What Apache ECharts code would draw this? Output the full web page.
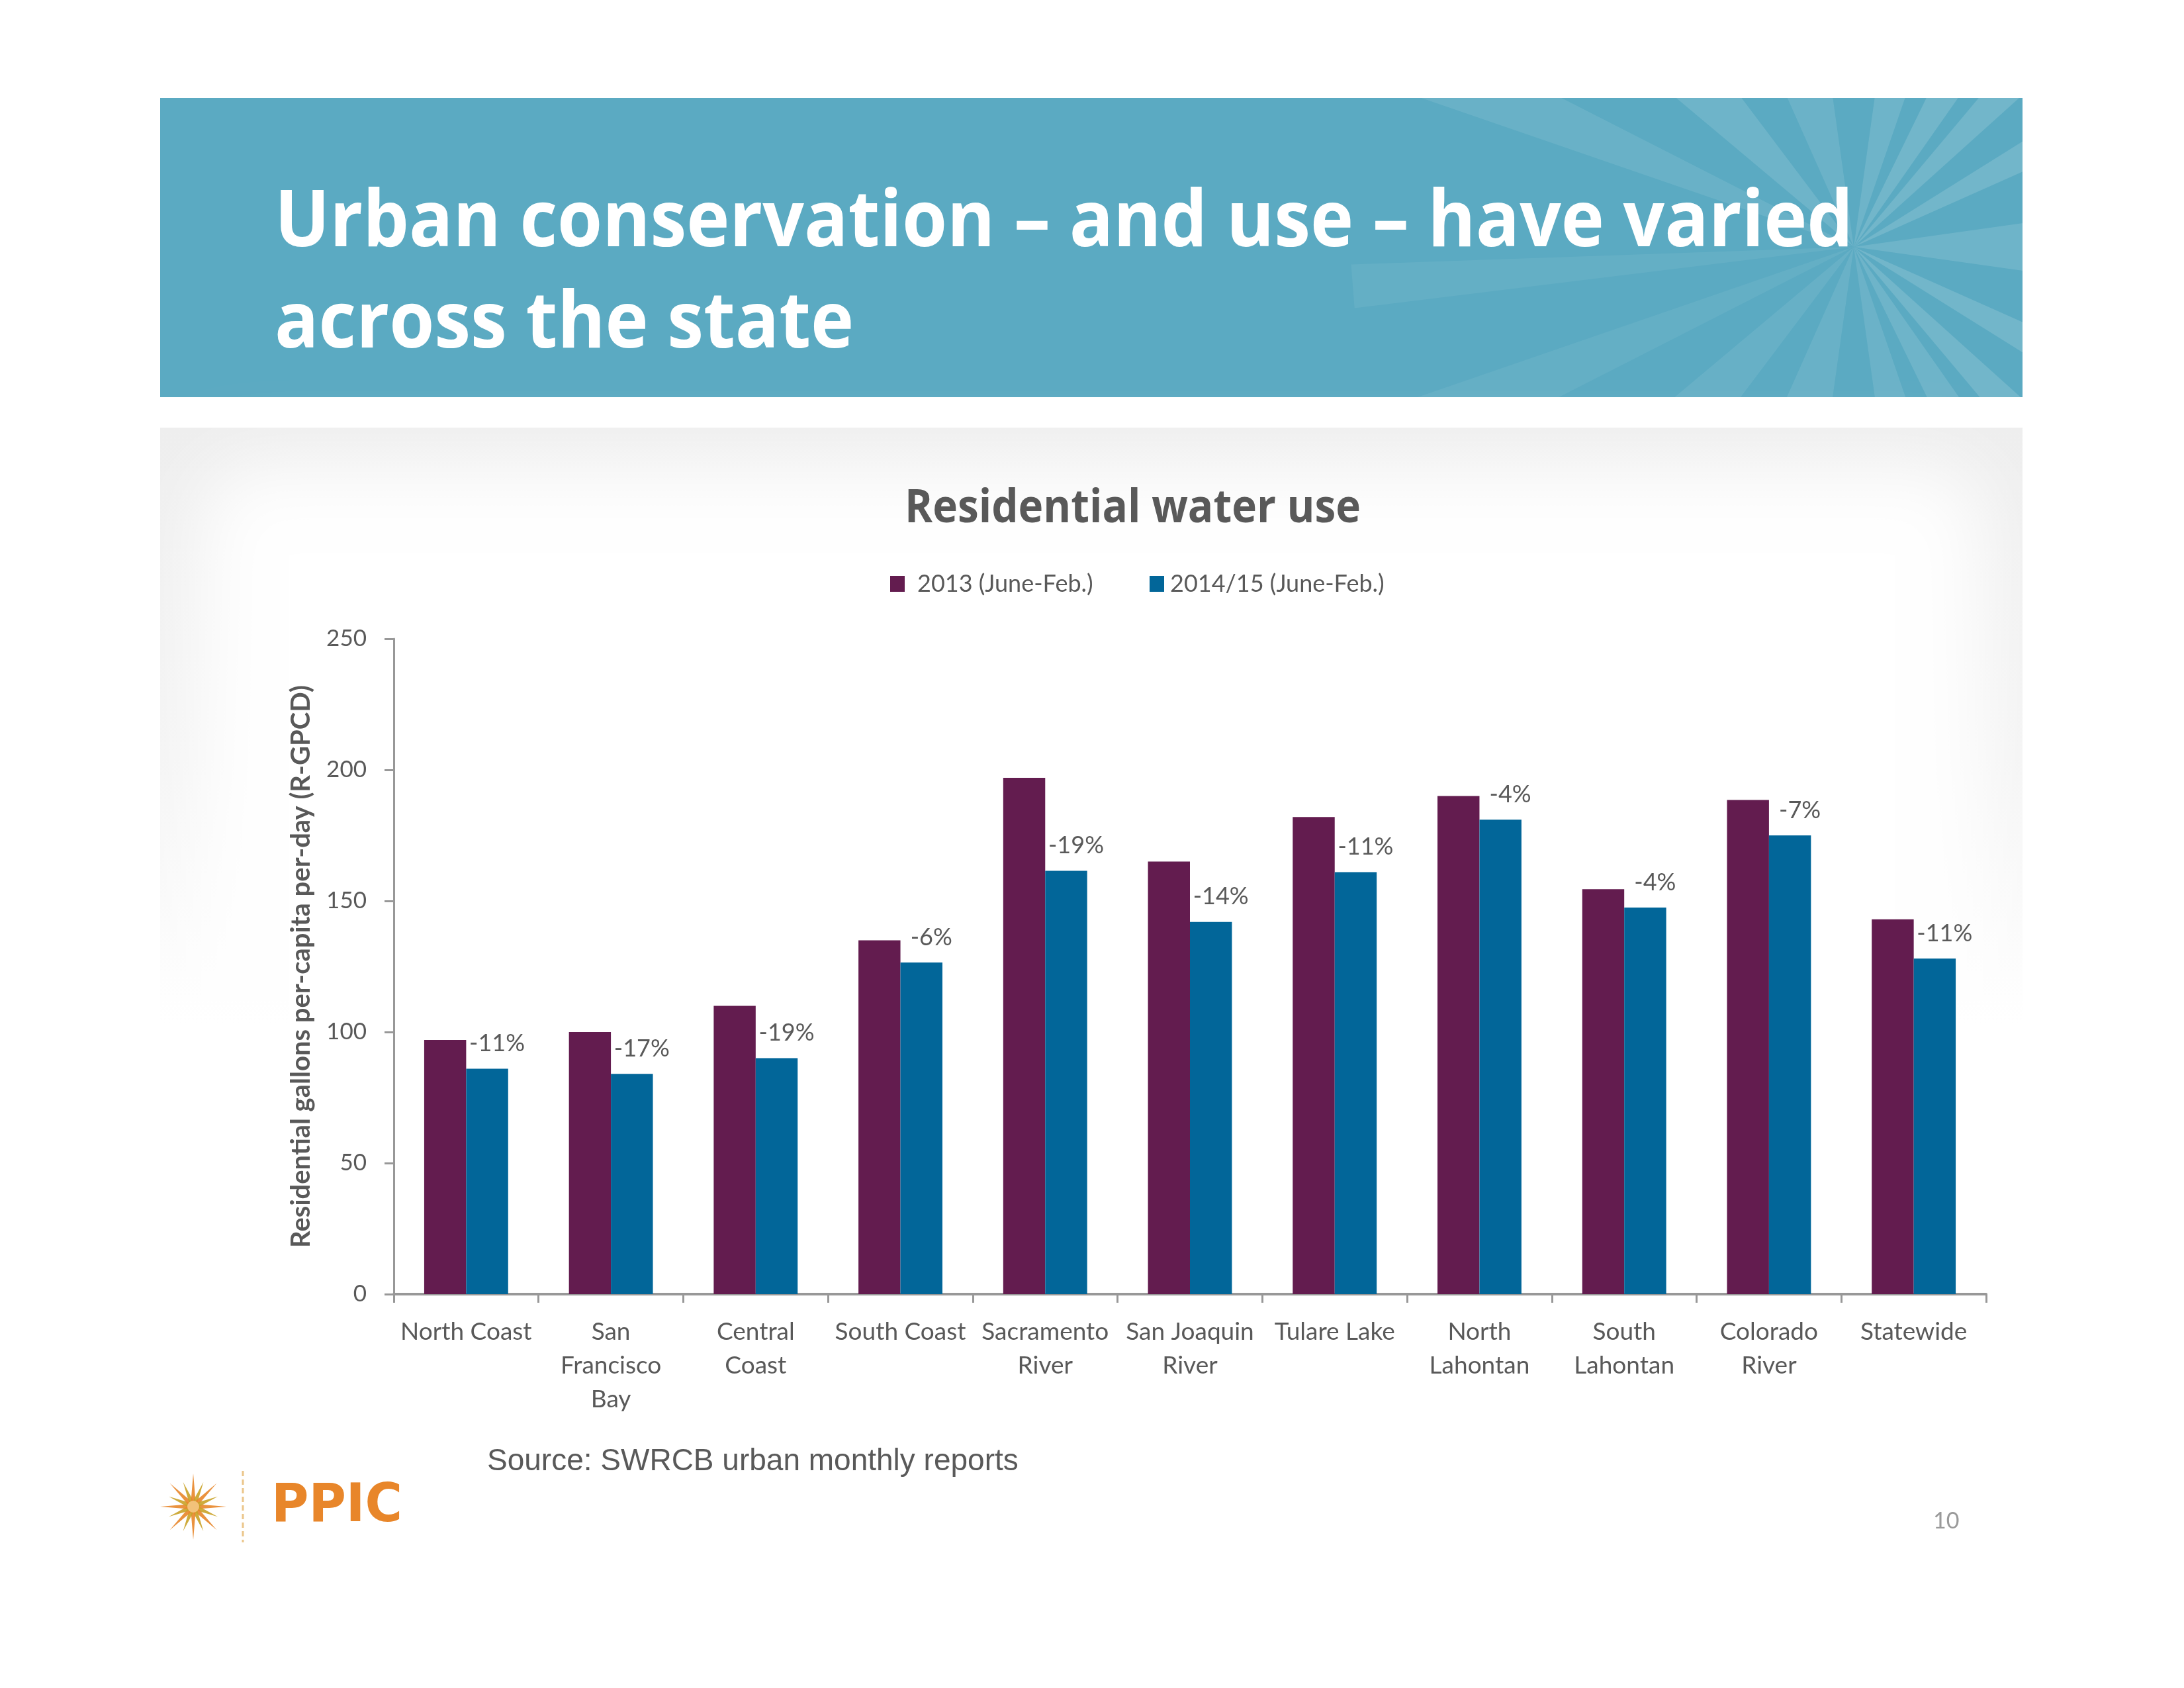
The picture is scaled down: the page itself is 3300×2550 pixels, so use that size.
<!DOCTYPE html>
<html>
<head>
<meta charset="utf-8">
<title>Residential water use</title>
<script src="https://cdn.jsdelivr.net/npm/echarts@6/dist/echarts.min.js"></script>
<style>
    html, body { margin: 0; padding: 0; background: #fff; }
    #main { width: 3300px; height: 2550px; }
</style>
</head>
<body>
<div id="main"></div>
<script>
/* ============================
   DATOS
============================ */
const categories = [
    'North Coast', 'San\nFrancisco\nBay', 'Central\nCoast', 'South Coast',
    'Sacramento\nRiver', 'San Joaquin\nRiver', 'Tulare Lake', 'North\nLahontan',
    'South\nLahontan', 'Colorado\nRiver', 'Statewide'
];
const use2013 = [97, 100, 110, 135, 197, 165, 182, 190, 154.5, 188.5, 143];
const use2014 = [86, 84, 90, 126.5, 161.5, 142, 161, 181, 147.5, 175, 128];
const changeLabels = ['-11%', '-17%', '-19%', '-6%', '-19%', '-14%', '-11%', '-4%', '-4%', '-7%', '-11%'];
const seriesNames = ['2013 (June-Feb.)', '2014/15 (June-Feb.)'];
const yTicks = { min: 0, max: 250, interval: 50 };

const C_2013 = '#631C4F';
const C_2014 = '#026699';
const C_TEXT = '#595959';
const C_AXIS = '#989898';

/* ============================
   UTILIDAD: ajustar ancho de texto
============================ */
const ctx = document.createElement('canvas').getContext('2d');
function fitScale(text, font, target) {
    ctx.font = font;
    return target / ctx.measureText(text).width;
}

/* ============================
   DECORACION (banner, panel, logo)
============================ */
function buildGraphic() {
    const g = [];
    const cx = 2801, cy = 373;

    // banner
    g.push({ type: 'rect', shape: { x: 242, y: 148, width: 2814, height: 452 }, style: { fill: '#5BAAC2' } });

    // rayos del starburst
    const wedges = [
        [-161, -153, 0.09], [-140, -127, 0.12], [-114, -98, 0.10], [-82, -71, 0.12], [-64, -55, 0.14],
        [-50, -42, 0.14], [-32, -24, 0.14], [-8, 8, 0.12],
        [24, 32, 0.14], [42, 50, 0.14], [55, 64, 0.12], [71, 82, 0.10], [98, 114, 0.09], [127, 140, 0.08],
        [153, 161, 0.06], [173, 178, 0.06]
    ];
    wedges.forEach(w => {
        const r = 760;
        const a1 = w[0] * Math.PI / 180, a2 = w[1] * Math.PI / 180;
        g.push({
            type: 'polygon',
            shape: { points: [[cx, cy], [cx + r * Math.cos(a1), cy + r * Math.sin(a1)], [cx + r * Math.cos(a2), cy + r * Math.sin(a2)]] },
            style: { fill: 'rgba(255,255,255,' + w[2] + ')' }
        });
    });

    // tapar lo que sale del banner
    g.push({ type: 'rect', shape: { x: 0, y: 0, width: 3300, height: 148 }, style: { fill: '#fff' } });
    g.push({ type: 'rect', shape: { x: 3056, y: 0, width: 244, height: 700 }, style: { fill: '#fff' } });
    g.push({ type: 'rect', shape: { x: 0, y: 600, width: 3300, height: 100 }, style: { fill: '#fff' } });

    // titulo del banner
    const fTitle = 'bold 118px "Open Sans"';
    const sTitle = fitScale('Urban conservation \u2013 and use \u2013 have varied', fTitle, 2385);
    g.push({
        type: 'text', x: 415, y: 338, scaleX: sTitle,
        style: { text: 'Urban conservation \u2013 and use \u2013 have varied', font: fTitle, fill: '#fff', verticalAlign: 'middle', textVerticalAlign: 'middle' }
    });
    g.push({
        type: 'text', x: 415, y: 491, scaleX: sTitle,
        style: { text: 'across the state', font: fTitle, fill: '#fff', verticalAlign: 'middle', textVerticalAlign: 'middle' }
    });

    // panel gris con borde difuminado
    g.push({
        type: 'rect', shape: { x: 242, y: 646, width: 2814, height: 900 },
        style: {
            fill: {
                type: 'linear', x: 0, y: 0, x2: 0, y2: 1,
                colorStops: [{ offset: 0, color: '#EEEEEE' }, { offset: 0.55, color: '#F4F4F4' }, { offset: 1, color: '#FFFFFF' }]
            }
        }
    });
    // solo la sombra blanca (el rect queda fuera de la pantalla)
    g.push({
        type: 'rect', shape: { x: 305 + 6000, y: 705, width: 2690, height: 1500, r: 80 },
        style: { fill: '#fff', shadowBlur: 110, shadowColor: '#fff', shadowOffsetX: -6000, shadowOffsetY: 0 }
    });

    // titulo del grafico
    const fChart = 'bold 69px "Open Sans"';
    g.push({
        type: 'text', x: 1367, y: 769, scaleX: fitScale('Residential water use', fChart, 689),
        style: { text: 'Residential water use', font: fChart, fill: C_TEXT, verticalAlign: 'middle', textVerticalAlign: 'middle' }
    });

    // fuente
    g.push({
        type: 'text', x: 736, y: 2208,
        style: { text: 'Source: SWRCB urban monthly reports', font: '46px "Liberation Sans"', fill: C_TEXT, verticalAlign: 'middle', textVerticalAlign: 'middle' }
    });

    // logo PPIC
    const lx = 292, ly = 2276;
    for (let i = 0; i < 16; i++) {
        const a = i * Math.PI / 8;
        const len = (i % 2 === 0) ? 50 : 40;
        const w = 3.5;
        const px = -Math.sin(a) * w, py = Math.cos(a) * w;
        g.push({
            type: 'polygon',
            shape: { points: [
                [lx + Math.cos(a) * 8 + px, ly + Math.sin(a) * 8 + py],
                [lx + Math.cos(a) * len, ly + Math.sin(a) * len],
                [lx + Math.cos(a) * 8 - px, ly + Math.sin(a) * 8 - py],
                [lx, ly]
            ] },
            style: { fill: (i % 2 === 0) ? '#E8862A' : '#C9A227', opacity: 0.9 }
        });
    }
    g.push({ type: 'circle', shape: { cx: lx, cy: ly, r: 9 }, style: { fill: '#F2C27A' } });
    g.push({
        type: 'line', shape: { x1: 367, y1: 2222, x2: 367, y2: 2330 },
        style: { stroke: '#EBC68A', lineWidth: 3, lineDash: [8, 5] }
    });
    const fLogo = 'bold 81px "DejaVu Sans"';
    g.push({
        type: 'text', x: 410, y: 2277, scaleX: fitScale('PPIC', fLogo, 198),
        style: { text: 'PPIC', font: fLogo, fill: '#E8862A', verticalAlign: 'middle', textVerticalAlign: 'middle' }
    });

    // numero de pagina
    g.push({
        type: 'text', x: 2921, y: 2298,
        style: { text: '10', font: '34px Lato', fill: '#9A9A9A', verticalAlign: 'middle', textVerticalAlign: 'middle' }
    });

    return g;
}

/* ============================
   GRAFICO
============================ */
const myChart = echarts.init(document.getElementById('main'), null, { renderer: 'canvas' });

const labelFont = { fontFamily: 'Lato', color: C_TEXT };

const option = {
    backgroundColor: '#fff',
    animation: false,
    graphic: { elements: buildGraphic() },
    legend: [
        {
            data: [seriesNames[0]], left: 1340, top: 859,
            icon: 'rect', itemWidth: 22, itemHeight: 24,
            textStyle: { ...labelFont, fontSize: 36, padding: [0, 0, 0, 14] }
        },
        {
            data: [seriesNames[1]], left: 1732, top: 859,
            icon: 'rect', itemWidth: 22, itemHeight: 24,
            textStyle: { ...labelFont, fontSize: 36, padding: [0, 0, 0, 4] }
        }
    ],
    grid: { left: 595, right: 299, top: 965, bottom: 595, containLabel: false },
    xAxis: {
        type: 'category',
        data: categories,
        axisLine: { lineStyle: { color: C_AXIS, width: 4 } },
        axisTick: { show: true, length: 13, lineStyle: { color: C_AXIS, width: 3 } },
        axisLabel: { ...labelFont, interval: 0, fontSize: 37, lineHeight: 51, margin: 32 }
    },
    yAxis: {
        type: 'value',
        min: yTicks.min, max: yTicks.max, interval: yTicks.interval,
        name: 'Residential gallons per-capita per-day (R-GPCD)',
        nameLocation: 'middle', nameRotate: 90, nameGap: 120,
        nameTextStyle: { ...labelFont, fontSize: 40, fontWeight: 'bold' },
        axisLine: { show: true, lineStyle: { color: C_AXIS, width: 3 } },
        axisTick: { show: true, length: 14, lineStyle: { color: C_AXIS, width: 3 } },
        splitLine: { show: false },
        axisLabel: { ...labelFont, fontSize: 35, margin: 41 }
    },
    series: [
        {
            name: seriesNames[0], type: 'bar', data: use2013,
            barGap: '0%', barCategoryGap: '42%',
            itemStyle: { color: C_2013 }
        },
        {
            name: seriesNames[1], type: 'bar', data: use2014,
            barGap: '0%', barCategoryGap: '42%',
            itemStyle: { color: C_2014 },
            label: {
                show: true, position: 'top', distance: 20, offset: [15, 0],
                ...labelFont, fontSize: 36,
                formatter: p => changeLabels[p.dataIndex]
            }
        }
    ]
};

myChart.setOption(option);
window.addEventListener('resize', () => myChart.resize());
</script>
</body>
</html>
